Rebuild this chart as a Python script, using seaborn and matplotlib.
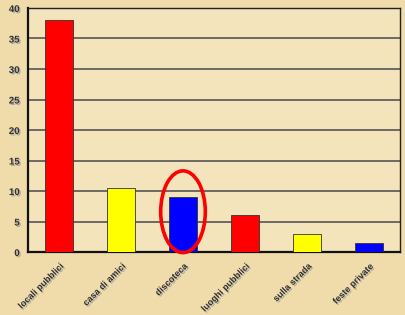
import numpy as np
import pandas as pd
import seaborn as sns
from matplotlib import pyplot as plt
from matplotlib.patches import Ellipse
import matplotlib.patheffects as pe

luoghi = ['locali pubblici', 'casa di amici', 'discoteca', 'luoghi pubblici', 'sulla strada', 'feste private']
valori = [38, 10.5, 9, 6, 3, 1.5]
colori = ['#ff0000', '#ffff00', '#0000ff', '#ff0000', '#ffff00', '#0000ff']

df = pd.DataFrame({'luogo': luoghi, 'valore': valori})

sns.set_style('white')
plt.rcParams['font.family'] = ['Liberation Sans', 'DejaVu Sans']

fig = plt.figure(figsize=(4.06, 3.15), dpi=100, facecolor='#efdcaa')
ax = fig.add_axes([28/406, 63/315, 372/406, 244/315])
ax.set_facecolor('#f4e4bb')

sns.barplot(data=df, x='luogo', y='valore', hue='luogo', palette=colori, legend=False,
            saturation=1, width=0.44, edgecolor='#333333', linewidth=0.6, ax=ax, zorder=3)

ax.set_ylim(0, 40)
ax.set_yticks(np.arange(0, 41, 5))
ax.yaxis.grid(True, color='#555555', linewidth=1.2, zorder=0)
ax.set_axisbelow(True)
ax.set_xlabel('')
ax.set_ylabel('')

shadow = [pe.withSimplePatchShadow(offset=(1, -1), shadow_rgbFace='#999999', alpha=0.8)]
ax.tick_params(axis='y', labelsize=7, length=4, color='#555555', pad=2)
ax.tick_params(axis='x', labelsize=6.5, length=3, color='#777777', pad=4)
for t in ax.get_yticklabels():
    t.set_fontweight('bold')
    t.set_color('#333333')
    t.set_path_effects(shadow)
for t in ax.get_xticklabels():
    t.set_fontweight('bold')
    t.set_color('#333333')
    t.set_rotation(45)
    t.set_ha('right')
    t.set_rotation_mode('anchor')
    t.set_path_effects(shadow)

for side in ['left', 'bottom']:
    ax.spines[side].set_linewidth(1.6)
    ax.spines[side].set_color('#111111')
for side in ['top', 'right']:
    ax.spines[side].set_linewidth(1.0)
    ax.spines[side].set_color('#222222')

ax.add_patch(Ellipse((2, 6.6), 0.72, 13.4, fill=False, edgecolor='#ff0000', linewidth=2.6, zorder=5, clip_on=False))

fig.savefig('out.png', dpi=100, facecolor=fig.get_facecolor())
